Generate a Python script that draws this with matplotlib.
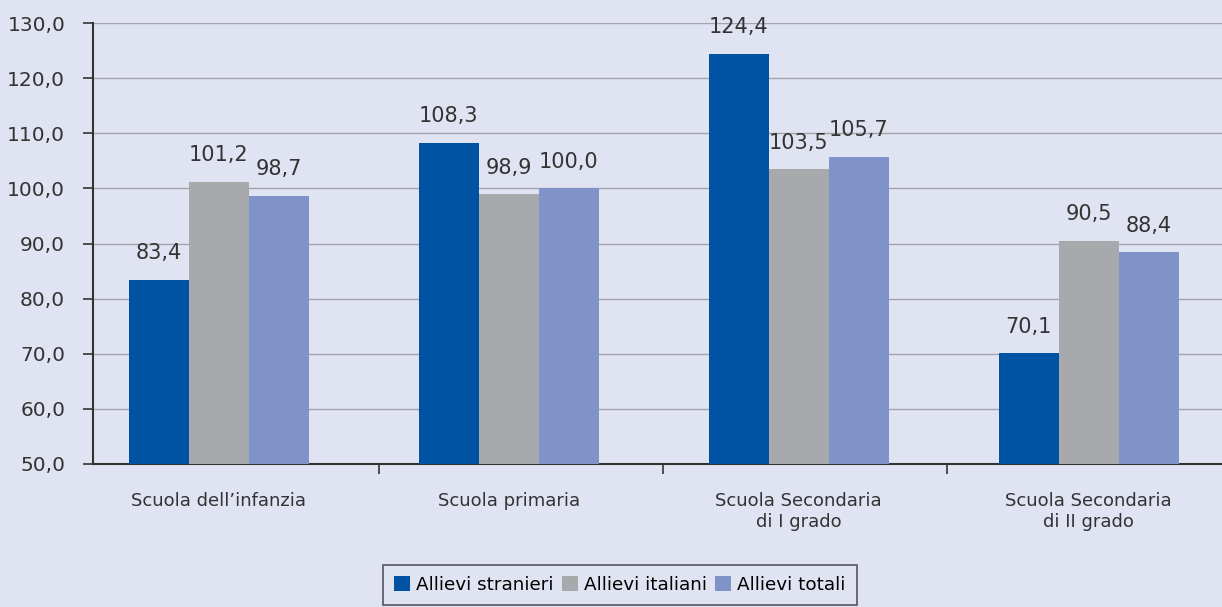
import matplotlib.pyplot as plt
import numpy as np

categorie = ["Scuola dell’infanzia", "Scuola primaria",
             "Scuola Secondaria\ndi I grado", "Scuola Secondaria\ndi II grado"]
serie = ["Allievi stranieri", "Allievi italiani", "Allievi totali"]
stranieri = [83.4, 108.3, 124.4, 70.1]
italiani = [101.2, 98.9, 103.5, 90.5]
totali = [98.7, 100.0, 105.7, 88.4]

colori = ['#0052a3', '#a8a9ac', '#8093c8']
sfondo = '#e0e3f1'

fig = plt.figure(figsize=(12.22, 6.07), dpi=100, facecolor=sfondo)
ax = fig.add_axes([0.0761, 0.2356, 0.9239, 0.7264], facecolor=sfondo)

x = np.arange(len(categorie))
larghezza = 0.207
for k, (valori, nome) in enumerate(zip([stranieri, italiani, totali], serie)):
    pos = x + (k - 1) * larghezza
    ax.bar(pos, [v - 50 for v in valori], bottom=50, width=larghezza,
           color=colori[k], label=nome, zorder=3)
    for p, v in zip(pos, valori):
        ax.text(p, v + 3.0, f"{v:.1f}".replace('.', ','), ha='center',
                va='bottom', fontsize=15, color='#333333')

ax.set_ylim(50, 130)
ax.set_yticks(np.arange(50, 131, 10))
ax.set_yticklabels([f"{v:.1f}".replace('.', ',') for v in np.arange(50, 131, 10)],
                   fontsize=14.5, color='#333333')
ax.set_xlim(-0.433, 3.46)
ax.set_xticks(x)
ax.set_xticklabels(categorie, fontsize=13, color='#333333')
ax.set_xticks(x[:-1] + 0.553 - 0.02 * x[:-1], minor=True)
ax.tick_params(axis='x', which='major', length=0, pad=20)
ax.tick_params(axis='x', which='minor', length=7, width=1.2, color='#333333')
ax.tick_params(axis='y', length=7, width=1.2, color='#333333', pad=13)
ax.yaxis.grid(True, color='#a3a4ab', linewidth=1.0, zorder=0)

for lato in ['top', 'right']:
    ax.spines[lato].set_visible(False)
for lato in ['left', 'bottom']:
    ax.spines[lato].set_color('#333333')
    ax.spines[lato].set_linewidth(1.5)

leg = fig.legend(loc='lower center', bbox_to_anchor=(0.5075, -0.012), ncol=3,
                 frameon=True, fancybox=False, fontsize=13.2,
                 handlelength=0.85, handleheight=0.85, handletextpad=0.35,
                 columnspacing=0.45, borderpad=0.6)
leg.get_frame().set_edgecolor('#333333')
leg.get_frame().set_facecolor(sfondo)
leg.get_frame().set_linewidth(1.2)

fig.savefig('out.png', dpi=100, facecolor=sfondo)
